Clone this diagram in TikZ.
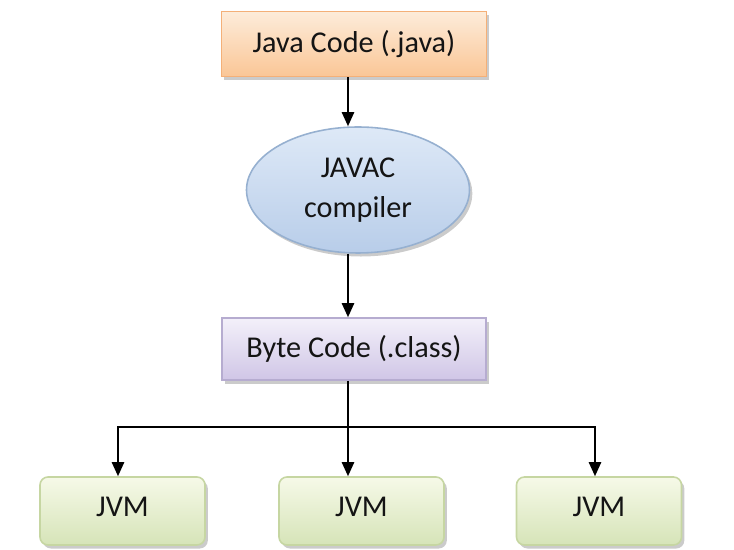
\documentclass[tikz,border=0pt]{standalone}
\usepackage{fontspec}
\setmainfont{Carlito}
\usepackage{tikz}
\usetikzlibrary{arrows.meta, shapes.geometric, shadows}

\definecolor{javatop}{RGB}{253,236,218}
\definecolor{javabot}{RGB}{250,198,150}
\definecolor{javaline}{RGB}{244,176,120}
\definecolor{cmptop}{RGB}{222,233,247}
\definecolor{cmpbot}{RGB}{184,205,233}
\definecolor{cmpline}{RGB}{150,176,208}
\definecolor{bytetop}{RGB}{243,240,250}
\definecolor{bytebot}{RGB}{208,198,230}
\definecolor{byteline}{RGB}{182,172,208}
\definecolor{jvmtop}{RGB}{246,249,232}
\definecolor{jvmbot}{RGB}{214,228,184}
\definecolor{jvmline}{RGB}{198,214,162}

\tikzset{
	boxtext/.style={font=\fontsize{17.2}{22.5}\selectfont, text=black!92, align=center},
	softshadow/.style={drop shadow={shadow xshift=1.6pt, shadow yshift=-2pt, fill=black!45, opacity=0.45}},
	javabox/.style={boxtext, rectangle, draw=javaline, line width=0.9pt, top color=javatop, bottom color=javabot, minimum width=5.3cm, minimum height=1.3cm, softshadow},
	compilerbox/.style={boxtext, ellipse, draw=cmpline, line width=0.9pt, top color=cmptop, bottom color=cmpbot, minimum width=4.46cm, minimum height=2.52cm, inner sep=0pt, softshadow},
	bytebox/.style={boxtext, rectangle, draw=byteline, line width=0.9pt, top color=bytetop, bottom color=bytebot, minimum width=5.28cm, minimum height=1.24cm, softshadow},
	jvmbox/.style={boxtext, rectangle, rounded corners=0.16cm, draw=jvmline, line width=0.9pt, top color=jvmtop, bottom color=jvmbot, minimum width=3.3cm, minimum height=1.36cm, text depth=0.15cm, softshadow},
	wire/.style={draw=black, line width=1pt},
	arrow/.style={wire, -{Triangle[length=8pt, width=7pt]}}
}

\begin{document}
\begin{tikzpicture}
			\useasboundingbox (0, 0) rectangle (14.68, 11);
			% Paths, nodes and wires:
			\node[javabox](N1) at (7.08, 10.12){Java Code (.java)};
			\node[compilerbox](N2) at (7.16, 7.2){JAVAC\\compiler};
			\node[bytebox](N3) at (7.08, 4.02){Byte Code (.class)};
			\node[jvmbox](N4) at (2.45, 0.78){JVM};
			\node[jvmbox](N5) at (7.23, 0.78){JVM};
			\node[jvmbox](N6) at (11.98, 0.78){JVM};
			\coordinate (B) at (6.96, 2.46);
			\draw[arrow] (N1.south -| B) -- (N2.north -| B);
			\draw[arrow] (N2.south -| B) -- (N3.north -| B);
			\draw[arrow] (N3.south -| B) -- (N5.north -| B);
			\draw[arrow] (B) -| ([xshift=-0.09cm]N4.north);
			\draw[arrow] (B) -| ([xshift=-0.08cm]N6.north);
		\end{tikzpicture}
\end{document}
